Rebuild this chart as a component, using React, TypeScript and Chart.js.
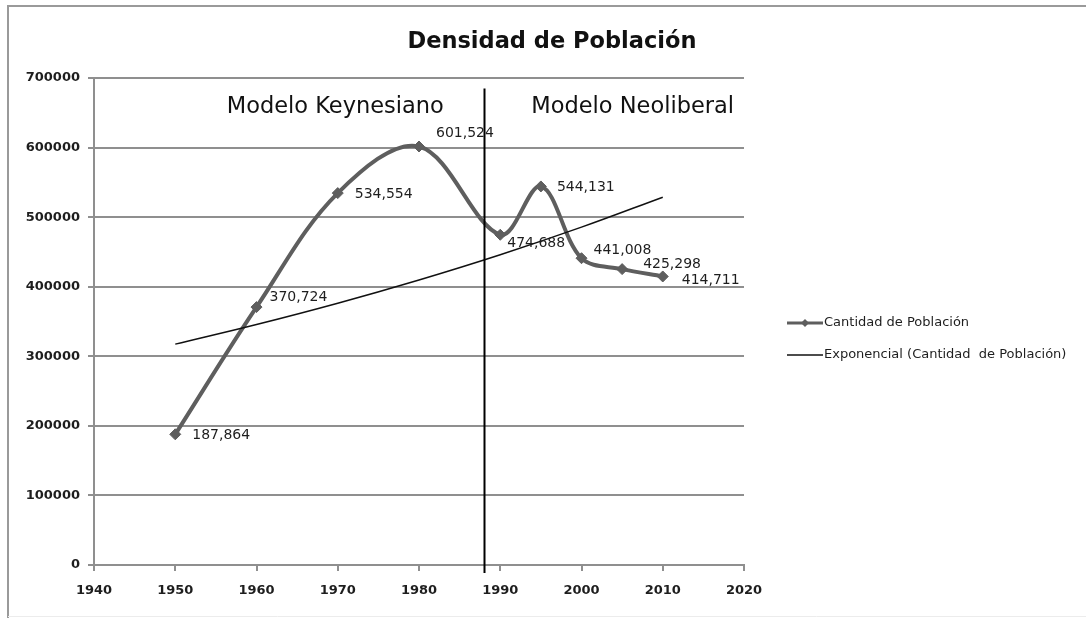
import React, { useEffect, useRef } from "react";
import { Chart, registerables } from "chart.js";

Chart.register(...registerables);

// ---- data ----
const years = [1950, 1960, 1970, 1980, 1990, 1995, 2000, 2005, 2010];
const population = [187864, 370724, 534554, 601524, 474688, 544131, 441008, 425298, 414711];
const valueLabels = ["187,864", "370,724", "534,554", "601,524", "474,688", "544,131", "441,008", "425,298", "414,711"];
const trendYears = [1950, 1960, 1970, 1980, 1990, 2000, 2010];
const trendValues = [317500, 345700, 376300, 409700, 446000, 485600, 528700];
const xMin = 1940;
const xMax = 2020;
const xStep = 10;
const yMin = 0;
const yMax = 700000;
const yStep = 100000;
const dividerYear = 1988;
const chartTitle = "Densidad de Población";
const eraLabels = ["Modelo Keynesiano", "Modelo Neoliberal"];
const seriesName = "Cantidad de Población";
const trendName = "Exponencial (Cantidad  de Población)";

// ---- presentation (positions/styles) ----
const labelOffsets = [
  [17, 1], [13, -10], [17, 1], [17, -13], [7, 9], [16, 1], [12, -8], [21, -5], [19, 4],
];
const eraLabelPos = [
  [1969.7, 658000],
  [2006.3, 658000],
];
const LINE_COLOR = "#5e5e5e";
const GRID_COLOR = "#8f8f8f";
const TEXT_COLOR = "#1e1e1e";
const FONT = "'DejaVu Sans', Verdana, sans-serif";

const overlayPlugin = {
  id: "overlay",
  beforeDraw(chart: any) {
    const { ctx, width, height } = chart;
    ctx.save();
    ctx.fillStyle = "#ffffff";
    ctx.fillRect(0, 0, width, height);
    // frame
    ctx.strokeStyle = "#9a9a9a";
    ctx.lineWidth = 2;
    ctx.beginPath();
    ctx.moveTo(width, 6);
    ctx.lineTo(8, 6);
    ctx.lineTo(8, height);
    ctx.stroke();
    ctx.strokeStyle = "#ececec";
    ctx.lineWidth = 1;
    ctx.beginPath();
    ctx.moveTo(8, 616.5);
    ctx.lineTo(width, 616.5);
    ctx.stroke();
    // title
    ctx.fillStyle = "#111";
    ctx.font = `bold 22.5px ${FONT}`;
    ctx.textAlign = "center";
    ctx.textBaseline = "alphabetic";
    ctx.fillText(chartTitle, 552, 48);
    ctx.restore();
  },
  afterDatasetsDraw(chart: any) {
    const { ctx, scales, chartArea } = chart;
    const xs = scales.x;
    const ys = scales.y;
    ctx.save();
    // divider line
    const dx = Math.round(xs.getPixelForValue(dividerYear)) + 0.5;
    ctx.strokeStyle = "#000";
    ctx.lineWidth = 2;
    ctx.beginPath();
    ctx.moveTo(dx, ys.getPixelForValue(685000));
    ctx.lineTo(dx, chartArea.bottom + 8);
    ctx.stroke();
    // era labels
    ctx.fillStyle = "#111";
    ctx.font = `22.5px ${FONT}`;
    ctx.textAlign = "center";
    ctx.textBaseline = "middle";
    eraLabels.forEach((t, i) => {
      ctx.fillText(t, xs.getPixelForValue(eraLabelPos[i][0]), ys.getPixelForValue(eraLabelPos[i][1]));
    });
    // data labels
    ctx.font = `14px ${FONT}`;
    ctx.fillStyle = TEXT_COLOR;
    ctx.textAlign = "left";
    ctx.textBaseline = "middle";
    const meta = chart.getDatasetMeta(1);
    meta.data.forEach((pt: any, i: number) => {
      ctx.fillText(valueLabels[i], pt.x + labelOffsets[i][0], pt.y + labelOffsets[i][1]);
    });
    ctx.restore();
  },
  afterDraw(chart: any) {
    const { ctx } = chart;
    ctx.save();
    // legend
    ctx.strokeStyle = LINE_COLOR;
    ctx.lineWidth = 3;
    ctx.beginPath();
    ctx.moveTo(787, 323);
    ctx.lineTo(823, 323);
    ctx.stroke();
    ctx.fillStyle = LINE_COLOR;
    ctx.beginPath();
    ctx.moveTo(805, 319);
    ctx.lineTo(809, 323);
    ctx.lineTo(805, 327);
    ctx.lineTo(801, 323);
    ctx.closePath();
    ctx.fill();
    ctx.strokeStyle = "#111";
    ctx.lineWidth = 1.5;
    ctx.beginPath();
    ctx.moveTo(787, 355);
    ctx.lineTo(823, 355);
    ctx.stroke();
    ctx.fillStyle = TEXT_COLOR;
    ctx.font = `13px ${FONT}`;
    ctx.textAlign = "left";
    ctx.textBaseline = "middle";
    ctx.fillText(seriesName, 824, 323);
    ctx.fillText(trendName, 824, 355);
    ctx.restore();
  },
};

export default function App() {
  const ref = useRef<HTMLCanvasElement | null>(null);
  useEffect(() => {
    if (!ref.current) return;
    const chart = new Chart(ref.current, {
      type: "line",
      data: {
        datasets: [
          {
            label: trendName,
            data: trendYears.map((x, i) => ({ x, y: trendValues[i] })),
            borderColor: "#111",
            borderWidth: 1.5,
            pointRadius: 0,
            tension: 0.4,
            fill: false,
            order: 0,
          },
          {
            label: seriesName,
            data: years.map((x, i) => ({ x, y: population[i] })),
            borderColor: LINE_COLOR,
            backgroundColor: LINE_COLOR,
            borderWidth: 4,
            pointStyle: "rectRot",
            pointRadius: 5.5,
            pointBackgroundColor: LINE_COLOR,
            pointBorderColor: LINE_COLOR,
            pointBorderWidth: 1,
            tension: 0.35,
            fill: false,
            order: 1,
          },
        ],
      },
      options: {
        animation: false,
        responsive: false,
        events: [],
        layout: { padding: { top: 78, right: 342, left: 0, bottom: 0 } },
        plugins: {
          legend: { display: false },
          title: { display: false },
          tooltip: { enabled: false },
        },
        scales: {
          x: {
            type: "linear",
            min: xMin,
            max: xMax,
            afterFit(scale: any) {
              scale.height = 53;
            },
            ticks: {
              stepSize: xStep,
              color: TEXT_COLOR,
              font: { family: FONT, size: 13, weight: "bold" },
              padding: 12,
              maxRotation: 0,
              callback: (v: any) => String(v),
            },
            grid: {
              drawOnChartArea: false,
              drawTicks: true,
              tickLength: 6,
              color: GRID_COLOR,
              lineWidth: 2,
            },
            border: { display: true, color: GRID_COLOR, width: 2 },
          },
          y: {
            min: yMin,
            max: yMax,
            afterFit(scale: any) {
              scale.width = 94;
            },
            ticks: {
              stepSize: yStep,
              color: TEXT_COLOR,
              font: { family: FONT, size: 13, weight: "bold" },
              padding: 8,
              callback: (v: any) => String(v),
            },
            grid: {
              drawOnChartArea: true,
              drawTicks: true,
              tickLength: 6,
              color: GRID_COLOR,
              lineWidth: 2,
            },
            border: { display: true, color: GRID_COLOR, width: 2 },
          },
        },
      },
      plugins: [overlayPlugin],
    });
    return () => chart.destroy();
  }, []);
  return (
    <div style={{ position: "fixed", left: 0, top: 0, width: 1086, height: 618, background: "#fff" }}>
      <canvas ref={ref} width={1086} height={618} style={{ display: "block", width: 1086, height: 618 }} />
    </div>
  );
}
